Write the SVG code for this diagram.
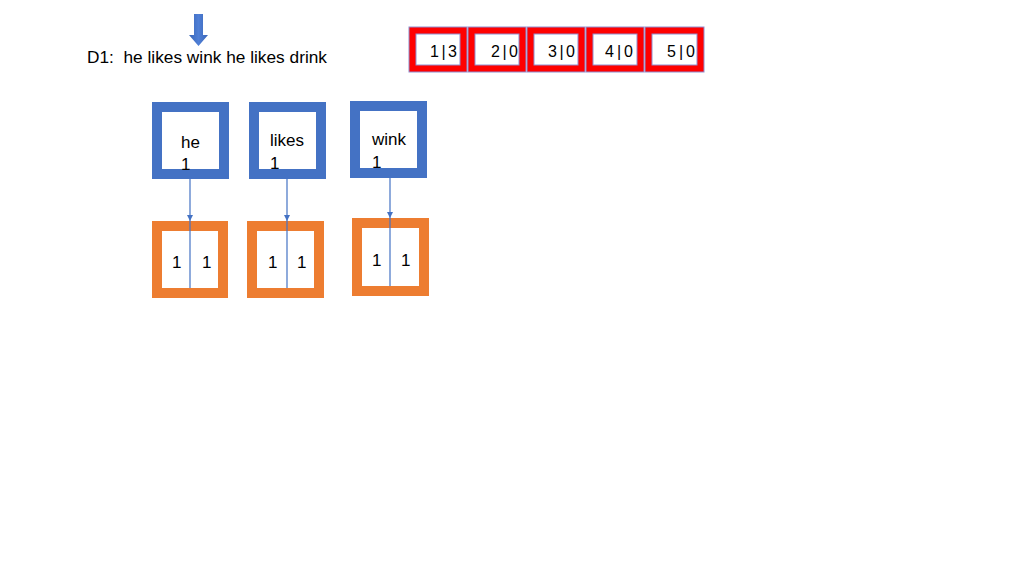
<svg xmlns="http://www.w3.org/2000/svg" width="1024" height="576" viewBox="0 0 1024 576">
<style>
text{font-family:"Liberation Sans",Arial,sans-serif;fill:#000;}
.t{font-size:17px;}
.s{font-size:16px;}
.word{fill:#fff;stroke:#4472c4;stroke-width:10;}
.post{fill:#fff;stroke:#ed7d31;stroke-width:10;}
.red{fill:#ff0000;stroke:#8f8fd0;stroke-width:1;}
.inn{fill:#fff;stroke:#8f8fd0;stroke-width:1;}
.conn{stroke:#4472c4;stroke-width:1.2;fill:none;marker-end:url(#ah);}
.mid{stroke:#4472c4;stroke-width:1.2;}
</style>
<defs>
<marker id="ah" viewBox="0 0 10 10" refX="10" refY="5" markerWidth="6" markerHeight="6" markerUnits="userSpaceOnUse" orient="auto">
<path d="M0,0 L10,5 L0,10 z" fill="#4472c4"/>
</marker>
<linearGradient id="bg" x1="0" y1="0" x2="1" y2="0">
<stop offset="0" stop-color="#3a66b8"/>
<stop offset="0.5" stop-color="#4f7fd6"/>
<stop offset="1" stop-color="#3a66b8"/>
</linearGradient>
</defs>
<rect width="1024" height="576" fill="#fff"/>

<g id="down-arrow">
<path d="M194,14 L203,14 L203,35 L208,35 L198.5,46 L189,35 L194,35 z" fill="url(#bg)"/>
</g>

<g id="doc-text">
<text class="t" x="87" y="63" textLength="240" lengthAdjust="spacingAndGlyphs" xml:space="preserve">D1:  he likes wink he likes drink</text>
</g>

<g id="array">
<g id="cell1"><rect class="red" x="409" y="27" width="58" height="45"/><rect class="inn" x="416" y="34" width="44" height="31"/><text class="s" x="430" y="57" textLength="27">1|3</text></g>
<g id="cell2"><rect class="red" x="468" y="27" width="58" height="45"/><rect class="inn" x="475" y="34" width="44" height="31"/><text class="s" x="491" y="57" textLength="27">2|0</text></g>
<g id="cell3"><rect class="red" x="527" y="27" width="58" height="45"/><rect class="inn" x="534" y="34" width="44" height="31"/><text class="s" x="548" y="57" textLength="27">3|0</text></g>
<g id="cell4"><rect class="red" x="586" y="27" width="58" height="45"/><rect class="inn" x="593" y="34" width="44" height="31"/><text class="s" x="605" y="57" textLength="28">4|0</text></g>
<g id="cell5"><rect class="red" x="645" y="27" width="59" height="45"/><rect class="inn" x="652" y="34" width="45" height="31"/><text class="s" x="667" y="57" textLength="28">5|0</text></g>
</g>

<g id="node-he">
<rect class="word" x="157" y="107" width="67" height="67"/>
<text class="t" x="181" y="148">he</text>
<text class="t" x="181" y="170">1</text>
</g>
<g id="node-likes">
<rect class="word" x="254" y="107" width="67" height="67"/>
<text class="t" x="270" y="146">likes</text>
<text class="t" x="270" y="169">1</text>
</g>
<g id="node-wink">
<rect class="word" x="355" y="106" width="67" height="67"/>
<text class="t" x="372" y="145">wink</text>
<text class="t" x="372" y="168">1</text>
</g>

<g id="post-he">
<rect class="post" x="157" y="226" width="66" height="67"/>
<text class="t" x="172" y="268">1</text>
<text class="t" x="202" y="268">1</text>
</g>
<g id="post-likes">
<rect class="post" x="252" y="226" width="67" height="67"/>
<text class="t" x="268" y="268">1</text>
<text class="t" x="297" y="268">1</text>
</g>
<g id="post-wink">
<rect class="post" x="357" y="223" width="67" height="68"/>
<text class="t" x="372" y="266">1</text>
<text class="t" x="401" y="266">1</text>
</g>

<g id="connectors">
<line class="conn" x1="190" y1="179" x2="190" y2="221"/>
<line class="mid" x1="190" y1="221" x2="190" y2="288"/>
<line class="conn" x1="287" y1="179" x2="287" y2="221"/>
<line class="mid" x1="287" y1="221" x2="287" y2="288"/>
<line class="conn" x1="390" y1="178" x2="390" y2="218"/>
<line class="mid" x1="390" y1="218" x2="390" y2="286"/>
</g>
</svg>
